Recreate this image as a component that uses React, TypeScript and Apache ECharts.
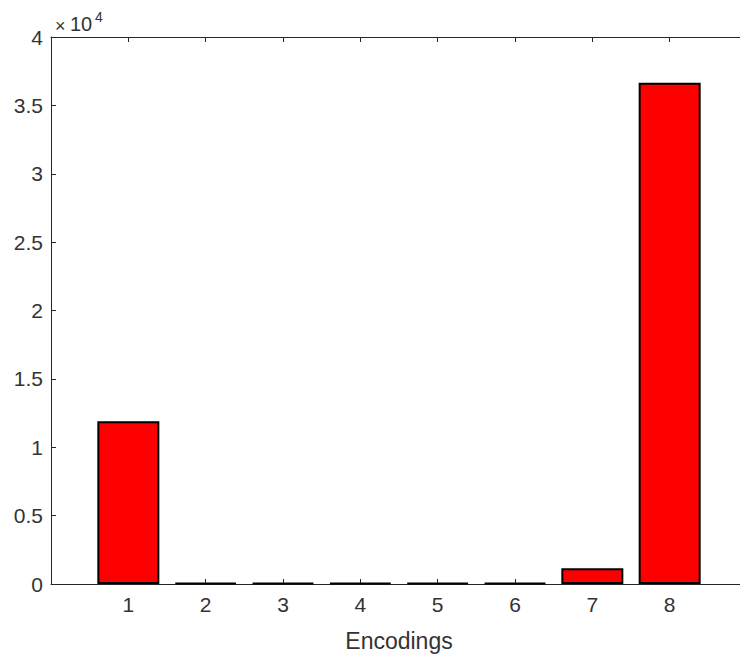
import React, { useEffect, useRef } from "react";
import * as echarts from "echarts";

const categories = [1, 2, 3, 4, 5, 6, 7, 8];
const counts = [11900, 90, 80, 80, 80, 80, 1150, 36650];
const yTicks = [0, 0.5, 1, 1.5, 2, 2.5, 3, 3.5, 4];
const xLabel = "Encodings";
const exponentLabel = "4";

export default function App() {
  const ref = useRef<HTMLDivElement>(null);
  useEffect(() => {
    if (!ref.current) return;
    const chart = echarts.init(ref.current, null, { renderer: "svg" });
    const font = "'Liberation Sans', Arial, Helvetica, sans-serif";
    const axisColor = "#262626";
    const textColor = "#333333";
    const tick = { show: true, inside: true, length: 5, lineStyle: { color: axisColor, width: 1 } };
    const line = { show: true, onZero: false, lineStyle: { color: axisColor, width: 1 } };
    chart.setOption({
      animation: false,
      backgroundColor: "#ffffff",
      textStyle: { fontFamily: font },
      grid: { left: 51, top: 37, right: 13, bottom: 75, containLabel: false },
      xAxis: [
        {
          type: "value",
          min: 0,
          max: 9,
          interval: 1,
          position: "bottom",
          axisLine: line,
          axisTick: tick,
          splitLine: { show: false },
          axisLabel: {
            color: textColor,
            fontSize: 21,
            fontFamily: font,
            margin: 10,
            formatter: (v: number) => (categories.indexOf(v) >= 0 ? String(v) : ""),
          },
          name: xLabel,
          nameLocation: "middle",
          nameGap: 45,
          nameTextStyle: { color: textColor, fontSize: 23, fontFamily: font },
        },
        {
          type: "value",
          min: 0,
          max: 9,
          interval: 1,
          position: "top",
          axisLine: line,
          axisTick: tick,
          splitLine: { show: false },
          axisLabel: { show: false },
        },
      ],
      yAxis: [
        {
          type: "value",
          min: 0,
          max: 40000,
          interval: 5000,
          position: "left",
          axisLine: line,
          axisTick: tick,
          splitLine: { show: false },
          axisLabel: {
            color: textColor,
            fontSize: 21,
            fontFamily: font,
            margin: 8,
            formatter: (v: number) => {
              const t = v / 10000;
              return yTicks.indexOf(t) >= 0 ? String(t) : "";
            },
          },
        },
        {
          type: "value",
          min: 0,
          max: 40000,
          interval: 5000,
          position: "right",
          axisLine: line,
          axisTick: tick,
          splitLine: { show: false },
          axisLabel: { show: false },
        },
      ],
      series: [
        {
          type: "bar",
          xAxisIndex: 0,
          yAxisIndex: 0,
          barWidth: 62,
          data: categories.map((c, i) => [c, counts[i]]),
          itemStyle: { color: "#ff0000", borderColor: "#000000", borderWidth: 2 },
        },
      ],
      graphic: [
        {
          type: "text",
          x: 55,
          y: 26,
          style: {
            text: "×",
            fontSize: 18,
            fill: textColor,
            fontFamily: font,
            verticalAlign: "middle",
            align: "left",
          },
        },
        {
          type: "text",
          x: 70,
          y: 24,
          style: {
            text: "10",
            fontSize: 20,
            fill: textColor,
            fontFamily: font,
            verticalAlign: "middle",
            align: "left",
          },
        },
        {
          type: "text",
          x: 95,
          y: 17,
          style: {
            text: exponentLabel,
            fontSize: 14,
            fill: textColor,
            fontFamily: font,
            verticalAlign: "middle",
            align: "left",
          },
        },
      ],
    });
    return () => chart.dispose();
  }, []);
  return (
    <div style={{ width: 740, height: 659, position: "absolute", left: 0, top: 0, overflow: "hidden" }}>
      <div ref={ref} style={{ width: 760, height: 659 }} />
    </div>
  );
}
